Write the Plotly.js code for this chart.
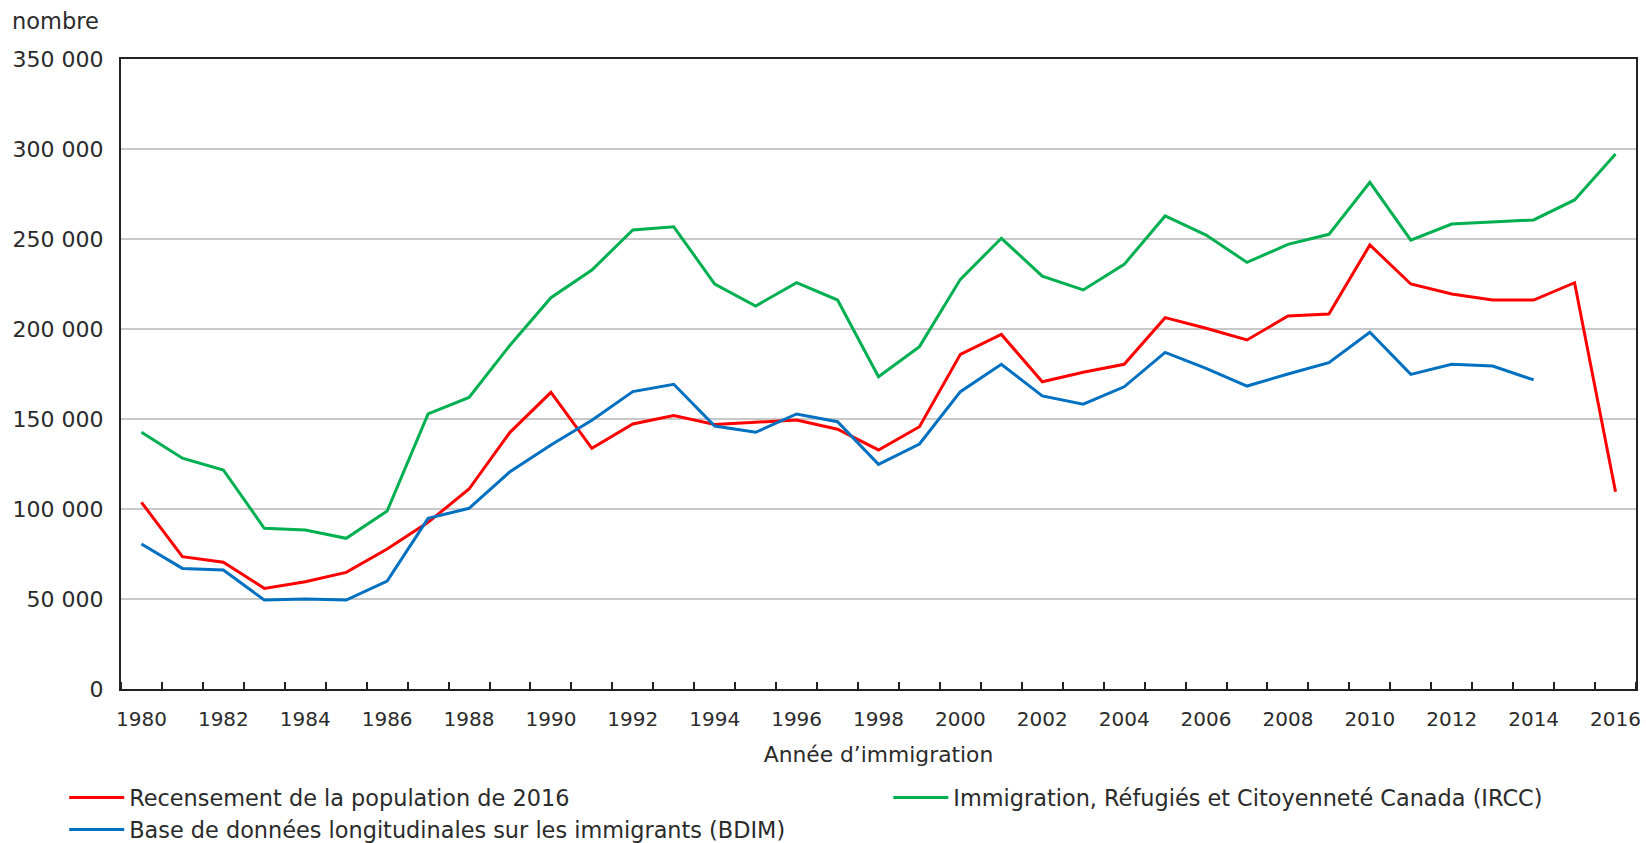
<!DOCTYPE html>
<html><head><meta charset="utf-8">
<script src="https://cdn.plot.ly/plotly-3.0.1.min.js"></script>
<style>html,body{margin:0;padding:0;background:#fff}#chart{width:1646px;height:843px}</style>
</head><body><div id="chart"></div>
<script>
const years = [1980,1981,1982,1983,1984,1985,1986,1987,1988,1989,1990,1991,1992,1993,1994,1995,1996,1997,1998,1999,2000,2001,2002,2003,2004,2005,2006,2007,2008,2009,2010,2011,2012,2013,2014,2015,2016];
const census = [103700,73500,70400,55900,59600,64800,77800,92600,111100,142600,164800,133700,147200,151900,147000,148000,149400,144300,132800,145700,185900,197000,170700,176000,180400,206300,200400,193900,207200,208300,246700,225000,219400,216100,216100,225700,109600];
const ircc = [142600,128200,121700,89300,88300,83700,98900,152800,162000,191000,217400,232800,255000,256800,225000,212800,225700,216100,173500,190200,227600,250400,229400,221700,235900,262800,252200,237000,247000,252600,281500,249400,258300,259600,260600,271700,297200];
const bdim = [80600,67000,66100,49400,50000,49400,60000,94800,100400,120700,135600,149300,165200,169300,146100,142600,152800,148500,124800,136100,165200,180400,162800,158200,167900,187000,178100,168300,175000,181300,198200,174800,180400,179400,171700,null,null];
const names = ["Recensement de la population de 2016","Immigration, Réfugiés et Citoyenneté Canada (IRCC)","Base de données longitudinales sur les immigrants (BDIM)"];
const colors = ["#ff0000","#00b050","#0070c0"];
const legendIds = ["legend","legend2","legend"];
const series = [census, ircc, bdim];
const xTitle = "Année d’immigration";
const yTitle = "nombre";

const FONT = "DejaVu Sans, Verdana, sans-serif";
const TXT = '#2b2b2b';
const traces = series.map((s,i)=>({
  type:'scatter', mode:'lines', x: years, y: s, name: names[i],
  line:{color: colors[i], width:3}, connectgaps:false, hoverinfo:'skip',
  legend: legendIds[i], legendgroup: 'g'+i
}));

const legendBase = {orientation:'v', xref:'container', yref:'container', xanchor:'left', yanchor:'top',
  traceorder:'normal', font:{family:FONT,size:22.4,color:TXT}, itemwidth:55, tracegroupgap:5,
  bgcolor:'rgba(0,0,0,0)', borderwidth:0};

const layout = {
  width:1646, height:843,
  margin:{l:121, r:10, t:59, b:154, pad:0, autoexpand:false},
  paper_bgcolor:'#fff', plot_bgcolor:'#fff',
  separators:', ',
  font:{family:FONT, size:20, color:TXT},
  showlegend:true,
  legend:Object.assign({}, legendBase, {x:0.039, y:0.079}),
  legend2:Object.assign({}, legendBase, {x:0.5397, y:0.079}),
  xaxis:{type:'linear', range:[1979.5,2016.5], tick0:1980, dtick:2, ticks:'', showgrid:false, zeroline:false,
    showline:true, mirror:true, linecolor:'#222', linewidth:2, automargin:false,
    tickfont:{family:FONT,size:20,color:TXT}, ticklabelstandoff:11,
    minor:{tick0:1980.5, dtick:1, ticks:'inside', ticklen:7, tickcolor:'#222', tickwidth:2, showgrid:false},
    title:{text:xTitle, font:{family:FONT,size:21.8,color:TXT}, standoff:17}},
  yaxis:{range:[0,350000], dtick:50000, tick0:0, tickformat:',d', ticks:'', showgrid:true, gridcolor:'#c8c8c8', gridwidth:1.5,
    zeroline:false, showline:true, mirror:true, linecolor:'#222', linewidth:2, automargin:false,
    tickfont:{family:FONT,size:22,color:TXT}, ticklabelstandoff:11},
  annotations:[{text:yTitle, xref:'paper', yref:'paper', x:0, y:1, xanchor:'left', yanchor:'middle',
    xshift:-111, yshift:38, showarrow:false, font:{family:FONT,size:22.5,color:TXT}}]
};
Plotly.newPlot('chart', traces, layout, {displayModeBar:false, staticPlot:true});
</script></body></html>
